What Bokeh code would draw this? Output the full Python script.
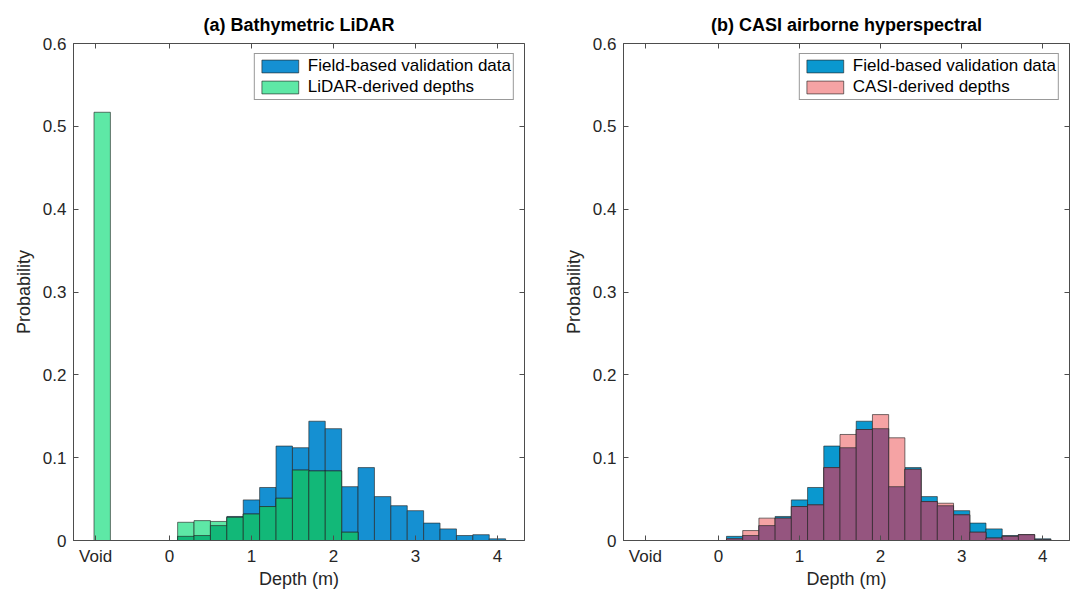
from bokeh.plotting import figure
from bokeh.layouts import row
from bokeh.models import FixedTicker, LinearAxis, Range1d, Legend, LegendItem
from bokeh.embed import file_html
from bokeh.resources import INLINE

# ---------------- data ----------------
depth_bins = [0.2, 0.4, 0.6, 0.8, 1.0, 1.2, 1.4, 1.6, 1.8, 2.0,
              2.2, 2.4, 2.6, 2.8, 3.0, 3.2, 3.4, 3.6, 3.8, 4.0]
field_prob = [0.005, 0.006, 0.018, 0.029, 0.049, 0.064, 0.114, 0.112, 0.144, 0.135,
              0.065, 0.088, 0.053, 0.042, 0.036, 0.021, 0.014, 0.006, 0.007, 0.002]
lidar_prob = [0.022, 0.024, 0.023, 0.028, 0.032, 0.041, 0.051, 0.085, 0.084, 0.084,
              0.010, 0.0, 0.0, 0.0, 0.0, 0.0, 0.0, 0.0, 0.0, 0.0]
lidar_void_prob = [0.517]
casi_prob = [0.002, 0.012, 0.027, 0.027, 0.041, 0.043, 0.088, 0.128, 0.134, 0.152,
             0.124, 0.086, 0.047, 0.045, 0.031, 0.010, 0.003, 0.005, 0.007, 0.001]
void_bin = [-0.82]
bin_width = 0.2
x_ticks = [-0.9, 0, 1, 2, 3, 4]
x_tick_labels = ["Void", "0", "1", "2", "3", "4"]
y_ticks = [0, 0.1, 0.2, 0.3, 0.4, 0.5, 0.6]
y_tick_labels = ["0", "0.1", "0.2", "0.3", "0.4", "0.5", "0.6"]

FONT = "Liberation Sans"
TXT = "#262626"
AX = "#4d4d4d"
EDGE = "#262626"


def make_panel(title, other_prob, other_label, blue, light, dark, width,
               border_left, border_right, void_prob=None):
    p = figure(width=width, height=596, output_backend="svg", toolbar_location=None,
               x_range=Range1d(-1.17, 4.33), y_range=Range1d(0, 0.6),
               min_border_left=border_left, min_border_right=border_right,
               min_border_top=43, min_border_bottom=56)
    p.grid.visible = False
    p.outline_line_color = AX
    p.outline_line_width = 1
    p.background_fill_color = "white"
    p.border_fill_color = "white"

    p.title.text = title
    p.title.align = "center"
    p.title.vertical_align = "top"
    p.title.text_font = FONT
    p.title.text_font_size = "18px"
    p.title.text_font_style = "bold"
    p.title.text_color = "black"
    p.title.text_line_height = 0.6
    p.title.standoff = 14

    for ax in (p.xaxis[0], p.yaxis[0]):
        ax.major_tick_in = 5
        ax.major_tick_out = 0
        ax.minor_tick_line_color = None
        ax.axis_line_color = AX
        ax.major_tick_line_color = AX
        ax.major_label_text_font = FONT
        ax.major_label_text_font_size = "17px"
        ax.major_label_text_color = TXT
        ax.axis_label_text_font = FONT
        ax.axis_label_text_font_size = "18px"
        ax.axis_label_text_font_style = "normal"
        ax.axis_label_text_color = TXT

    p.xaxis[0].ticker = FixedTicker(ticks=x_ticks)
    p.xaxis[0].major_label_overrides = dict(zip(x_ticks, x_tick_labels))
    p.xaxis[0].axis_label = "Depth (m)"
    p.xaxis[0].major_label_standoff = 6
    p.xaxis[0].axis_label_standoff = 0
    p.yaxis[0].ticker = FixedTicker(ticks=y_ticks)
    p.yaxis[0].major_label_overrides = dict(zip(y_ticks, y_tick_labels))
    p.yaxis[0].axis_label = "Probability"
    p.yaxis[0].major_label_standoff = 7
    p.yaxis[0].axis_label_standoff = 6

    top_ax = LinearAxis(ticker=FixedTicker(ticks=x_ticks), major_tick_in=5, major_tick_out=0,
                        minor_tick_line_color=None, axis_line_color=None,
                        major_tick_line_color=AX,
                        major_label_overrides={t: "" for t in x_ticks},
                        major_label_text_color=None, major_label_standoff=0)
    right_ax = LinearAxis(ticker=FixedTicker(ticks=y_ticks), major_tick_in=5, major_tick_out=0,
                          minor_tick_line_color=None, axis_line_color=None,
                          major_tick_line_color=AX,
                          major_label_overrides={t: "" for t in y_ticks},
                          major_label_text_color=None, major_label_standoff=0)
    p.add_layout(top_ax, "above")
    p.add_layout(right_ax, "right")

    overlap = [min(a, b) for a, b in zip(field_prob, other_prob)]
    r_field = p.vbar(x=depth_bins, top=field_prob, width=bin_width, fill_color=blue,
                     line_color=EDGE, line_width=0.8, line_alpha=0.8)
    r_other = p.vbar(x=depth_bins, top=other_prob, width=bin_width, fill_color=light,
                     line_color=EDGE, line_width=0.8, line_alpha=0.8)
    p.vbar(x=depth_bins, top=overlap, width=bin_width, fill_color=dark,
           line_color=EDGE, line_width=0.8, line_alpha=0.8)
    if void_prob is not None:
        p.vbar(x=void_bin, top=void_prob, width=bin_width, fill_color=light,
               line_color=EDGE, line_width=0.8, line_alpha=0.8)

    legend = Legend(items=[LegendItem(label="Field-based validation data", renderers=[r_field]),
                           LegendItem(label=other_label, renderers=[r_other])],
                    location="top_right", margin=10, padding=2, spacing=1,
                    glyph_width=46, glyph_height=16, label_standoff=5,
                    label_text_font=FONT, label_text_font_size="17px", label_text_color="black",
                    label_height=16,
                    border_line_color="#333333", border_line_width=1,
                    background_fill_color="white", background_fill_alpha=1)
    p.add_layout(legend)
    return p


p1 = make_panel("(a) Bathymetric LiDAR", lidar_prob, "LiDAR-derived depths",
                "#1590d2", "#5ee8a6", "#12b878", width=560,
                border_left=73, border_right=36, void_prob=lidar_void_prob)
p2 = make_panel("(b) CASI airborne hyperspectral", casi_prob, "CASI-derived depths",
                "#0a98cf", "#f5a3a4", "#95557f", width=517,
                border_left=59, border_right=8)

layout = row(p1, p2)
open("out.html", "w").write(file_html(layout, INLINE))
